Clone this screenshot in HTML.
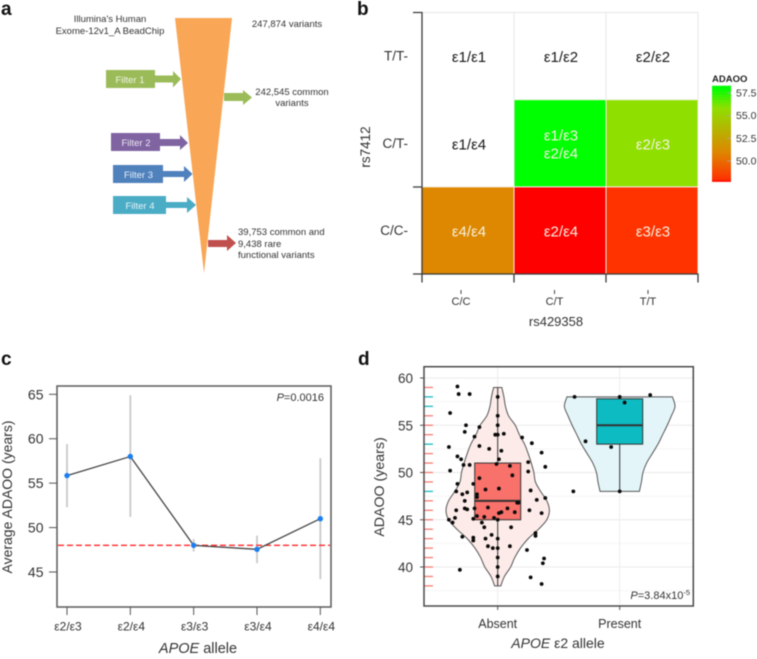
<!DOCTYPE html>
<html lang="en">
<head>
<meta charset="utf-8">
<title>APOE genotype and ADAOO figure</title>
<style>
html,body{margin:0;padding:0;background:#fff;width:757px;height:659px;overflow:hidden}
svg{display:block;filter:blur(.45px)}
text{font-family:"Liberation Sans",Arial,sans-serif;fill:#333}
.panel-label{font-weight:bold;font-size:19px;fill:#111}
</style>
</head>
<body>
<svg id="fig" xmlns="http://www.w3.org/2000/svg" width="757" height="659" viewBox="0 0 757 659">
  <rect width="757" height="659" fill="#fff"/>

  <g id="panel-a">
    <text class="panel-label" x="1" y="15">a</text>
    <polygon points="175,18 232,18 204,273" fill="#f9a656"/>
    <text x="110" y="22" font-size="9.500" text-anchor="middle">Illumina's Human</text>
    <text x="110" y="34" font-size="9.500" text-anchor="middle">Exome-12v1_A BeadChip</text>
    <text x="287" y="27" font-size="9.500" text-anchor="middle">247,874 variants</text>
    <text x="292" y="95" font-size="9.500" text-anchor="middle">242,545 common</text>
    <text x="292" y="106" font-size="9.500" text-anchor="middle">variants</text>
    <text x="238" y="235" font-size="9.500">39,753 common and</text>
    <text x="238" y="247" font-size="9.500">9,438 rare</text>
    <text x="238" y="258" font-size="9.500">functional variants</text>

    <g>
      <rect x="106" y="70" width="49" height="18" fill="#9bbb59"/>
      <polygon points="155,75.5 173,75.5 173,71 181,79 173,87.5 173,82.5 155,82.5" fill="#9bbb59"/>
      <text x="130" y="83" font-size="9.500" text-anchor="middle" style="fill:#f0f5e4">Filter 1</text>
    </g>
    <g>
      <rect x="111" y="133" width="49" height="18" fill="#8064a2"/>
      <polygon points="160,139 180,139 180,135 188,143 180,150 180,146 160,146" fill="#8064a2"/>
      <text x="136" y="146" font-size="9.500" text-anchor="middle" style="fill:#ece7f2">Filter 2</text>
    </g>
    <g>
      <rect x="113" y="165" width="50" height="18" fill="#4f81bd"/>
      <polygon points="163,171 184,171 184,166 192.500,174 184,182 184,177 163,177" fill="#4f81bd"/>
      <text x="138.500" y="178" font-size="9.500" text-anchor="middle" style="fill:#e6eef7">Filter 3</text>
    </g>
    <g>
      <rect x="113" y="196" width="53" height="18" fill="#4bacc6"/>
      <polygon points="166,202 187,202 187,197 196,205 187,213 187,208 166,208" fill="#4bacc6"/>
      <text x="140" y="209" font-size="9.500" text-anchor="middle" style="fill:#e5f4f8">Filter 4</text>
    </g>
    <polygon points="224,93 243,93 243,90 252,97.500 243,105 243,101 224,101" fill="#9bbb59"/>
    <polygon points="208,240 227,240 227,235 236,243 227,251 227,247 208,247" fill="#c0504d"/>
  </g>

  <g id="panel-b">
    <text class="panel-label" x="357" y="15">b</text>
    <defs>
      <linearGradient id="legend-gradient" x1="0" y1="1" x2="0" y2="0"></linearGradient>
    </defs>
    <g id="b-plot"></g>
    <text x="556" y="326" font-size="13" text-anchor="middle">rs429358</text>
    <text transform="translate(370 147) rotate(-90)" font-size="13.500" text-anchor="middle">rs7412</text>
    <text x="712" y="82" font-size="9.500" font-weight="bold" style="fill:#222">ADAOO</text>
    <g id="b-legend"></g>
  </g>

  <g id="panel-c">
    <text class="panel-label" x="1" y="365">c</text>
    <g id="c-plot"></g>
    <text x="198" y="653" font-size="14.500" text-anchor="middle"><tspan font-style="italic">APOE</tspan> allele</text>
    <text transform="translate(12 497) rotate(-90)" font-size="14" text-anchor="middle">Average ADAOO (years)</text>
    <text x="324" y="401" font-size="11" text-anchor="end"><tspan font-style="italic">P</tspan>=0.0016</text>
  </g>

  <g id="panel-d">
    <text class="panel-label" x="358" y="365">d</text>
    <g id="d-plot"></g>
    <text x="558" y="648" font-size="14" text-anchor="middle"><tspan font-style="italic">APOE</tspan> ε2 allele</text>
    <text transform="translate(384 487) rotate(-90)" font-size="14.200" text-anchor="middle">ADAOO (years)</text>
    <text x="690" y="599" font-size="11" text-anchor="end"><tspan font-style="italic">P</tspan>=3.84x10<tspan font-size="7.500" dy="-4">-5</tspan></text>
  </g>
</svg>

<script>
/* ---------- panel b data ---------- */
const heatRows = ['T/T', 'C/T', 'C/C'];
const heatCols = ['C/C', 'C/T', 'T/T'];
const heatValues = [[null, null, null], [null, 58, 55.85], [51, 47.5, 48]];
const heatLabels = [['ε1/ε1', 'ε1/ε2', 'ε2/ε2'], ['ε1/ε4', 'ε1/ε3\nε2/ε4', 'ε2/ε3'], ['ε4/ε4', 'ε2/ε4', 'ε3/ε3']];
const legendTicks = [57.5, 55, 52.5, 50];
const colorDomain = [47.5, 48, 51, 55.85, 58];
const colorRange = ['#ff0000', '#ff3300', '#dd8800', '#8fdf00', '#00ff00'];

/* ---------- panel c data ---------- */
const alleleLabels = ['ε2/ε3', 'ε2/ε4', 'ε3/ε3', 'ε3/ε4', 'ε4/ε4'];
const alleleMeans = [55.85, 58, 48, 47.55, 51];
const alleleLow = [52.3, 51.2, 47.3, 46, 44.2];
const alleleHigh = [59.4, 64.9, 48.7, 49.1, 57.8];
const cTicks = [45, 50, 55, 60, 65];
const cReference = 48;

/* ---------- panel d data ---------- */
const dTicks = [40, 45, 50, 55, 60];
const dCategories = ['Absent', 'Present'];
const violinLevelsAbsent = [38, 39, 40, 41, 42, 43, 44, 45, 46, 47, 48, 49, 50, 51, 52, 53, 54, 55, 56, 57, 58, 59];
const violinDensityAbsent = [.06, .13, .25, .33, .44, .59, .79, .95, 1, .95, .83, .73, .70, .65, .59, .52, .42, .34, .21, .15, .12, .08];
const violinLevelsPresent = [48, 49, 50, 51, 52, 53, 54, 55, 56, 57, 58];
const violinDensityPresent = [.38, .42, .45, .52, .63, .74, .83, .92, 1, 1.07, 1.02];
const boxAbsent = [38, 45, 47, 51, 59];
const boxPresent = [48, 53, 55, 57.8, 58];
const absentJitter = [-.33, -.32, -.23, -.39, -.26, -.27, -.15, -.19, -.40, -.15, -.07, -.33, -.30, -.39, -.28, -.23, -.20, -.33, -.34, -.25, -.29, -.27, -.17, -.17, -.27, -.25, -.34, -.19, -.40, -.37, -.35, -.20, -.17, -.29, -.20, -.20, -.13, -.11, -.10, -.05, -.08, -.04, .10, .11, -.31, -.02, .05, .20, .28, .36, .39, .03, .01, -.01, .10, .25, .25, -.15, .12, -.10, .01, .27, .32, .39, .16, .17, .26, .36, .14, .08, .03, .01, -.03, -.11, -.08, .31, .31, .24, .38, .37, .27, .36, 0, 0, 0, 0, 0, 0, 0, 0, 0, 0];
const absentValues = [59.1, 58.3, 58.3, 56.3, 55, 54.3, 54.8, 53.8, 52.7, 52.8, 52.5, 51.7, 51.4, 50.2, 50.8, 50.8, 48.8, 48.8, 48, 47.9, 47.7, 47, 47.7, 47.4, 46.2, 46.1, 46, 46.2, 45, 44.7, 45.2, 45.1, 45.4, 43.2, 43.1, 42.8, 44.7, 44.2, 43, 43.4, 42.2, 42, 42.2, 44.2, 39.7, 54, 54.1, 53.7, 53.1, 52.1, 50.6, 52.3, 51.4, 50.9, 50.7, 51.1, 50.1, 49.4, 49.7, 48.2, 48.3, 48.1, 47.1, 47.3, 46.8, 46.8, 46, 45.7, 45.8, 46.2, 45.8, 45.7, 45.2, 45.3, 46.3, 43.6, 43.3, 41.8, 40.9, 40.4, 38.9, 38.2, 58, 56, 55, 54, 43, 42, 41, 40, 39, 45];
const presentJitter = [-.37, 0, .25, .04, -.28, -.07, -.38, 0];
const presentValues = [58, 58, 58.2, 57.4, 53.3, 52.7, 48, 48];
const rugAbsent = [38, 39, 40, 41, 42, 43, 44, 45, 46, 47, 49, 50, 51, 52, 54, 55, 56, 59];
const rugPresent = [48, 53, 57, 58];

/* ---------- helpers ---------- */
const NS = 'http://www.w3.org/2000/svg';
function mk(parent, tag, attrs, txt) {
  const el = document.createElementNS(NS, tag);
  for (const k in attrs) el.setAttribute(k, attrs[k]);
  if (txt !== undefined) el.textContent = txt;
  parent.appendChild(el);
  return el;
}
function linear(d0, d1, r0, r1) {
  return v => r0 + (v - d0) * (r1 - r0) / (d1 - d0);
}
function colorOf(v) {
  let i = 0;
  while (i < colorDomain.length - 2 && v > colorDomain[i + 1]) i++;
  const t = Math.max(0, Math.min(1, (v - colorDomain[i]) / (colorDomain[i + 1] - colorDomain[i])));
  const c = s => [1, 3, 5].map(p => parseInt(s.substr(p, 2), 16));
  const a = c(colorRange[i]), b = c(colorRange[i + 1]);
  return 'rgb(' + a.map((x, j) => Math.round(x + (b[j] - x) * t)).join(',') + ')';
}
function smooth(pts) {
  let d = 'M' + pts[0][0] + ' ' + pts[0][1];
  for (let i = 0; i < pts.length - 1; i++) {
    const p0 = pts[Math.max(i - 1, 0)], p1 = pts[i], p2 = pts[i + 1], p3 = pts[Math.min(i + 2, pts.length - 1)];
    d += 'C' + (p1[0] + (p2[0] - p0[0]) / 6) + ' ' + (p1[1] + (p2[1] - p0[1]) / 6) + ' ' +
      (p2[0] - (p3[0] - p1[0]) / 6) + ' ' + (p2[1] - (p3[1] - p1[1]) / 6) + ' ' + p2[0] + ' ' + p2[1];
  }
  return d;
}

/* ---------- panel b ---------- */
(function () {
  const g = document.getElementById('b-plot');
  const left = 422, top = 12.5, cw = 92, ch = 87.2;
  const xb = i => left + i * cw, yb = i => top + i * ch;
  const topGrid = mk(g, 'path', {d: 'M422 12.5H698V100M514 12.5V100M606 12.5V100', fill: 'none', stroke: '#e6e6e6', 'stroke-width': 1});
  
  
  heatRows.forEach((row, r) => {
    heatCols.forEach((col, c) => {
      const v = heatValues[r][c];
      if (v !== null) {
        const rect = mk(g, 'rect', {x: xb(c), y: yb(r), width: cw, height: ch, fill: colorOf(v), stroke: '#f3efe6', 'stroke-width': 1});
        
        
      }
    });
  });
  heatRows.forEach((row, r) => {
    heatCols.forEach((col, c) => {
      const lines = heatLabels[r][c].split('\n');
      const v = heatValues[r][c];
      lines.forEach((ln, i) => {
        const t = mk(g, 'text', {x: xb(c) + cw / 2 + 1, y: yb(r) + ch / 2 + 6 + (i - (lines.length - 1) / 2) * 18, 'font-size': 15, 'text-anchor': 'middle'}, ln);
        t.style.fill = v === null ? '#1a1a1a' : '#f6f0e0';
        
        
      });
    });
    const rl = mk(g, 'text', {x: 408, y: yb(r) + ch / 2 + 4.5, 'font-size': 13.5, 'text-anchor': 'end'}, row + '-');
    
    
  });
  heatCols.forEach((col, c) => {
    const cx = xb(c) + cw / 2 - 7 + c * 1.5;
    const m = mk(g, 'line', {x1: cx, x2: cx, y1: 290, y2: 294, stroke: '#444'});
    
    
    const t = mk(g, 'text', {x: cx, y: 305, 'font-size': 11, 'text-anchor': 'middle'}, col);
    
    
  });
  const ax = mk(g, 'path', {d: 'M413 12.5H422V274H413M422 187H413M422 274H698V282.500M422 274V282.500M514 274V282.500M606 274V282.500', fill: 'none', stroke: '#3a3a3a', 'stroke-width': 1.3});
  
  

  const lg = document.getElementById('b-legend');
  const ly = linear(50, 57.5, 161, 93);
  const lo = 47.7, hi = 58.3;
  const grad = document.getElementById('legend-gradient');
  colorDomain.forEach(v => {
    mk(grad, 'stop', {offset: Math.max(0, (v - lo) / (hi - lo)), 'stop-color': colorOf(v)});
  });
  const bar = mk(lg, 'rect', {x: 712, y: ly(hi), width: 19, height: ly(lo) - ly(hi), fill: 'url(#legend-gradient)'});
  
  
  legendTicks.forEach(v => {
    const m = mk(lg, 'line', {x1: 727, x2: 731, y1: ly(v), y2: ly(v), stroke: '#aaa', 'stroke-width': .8});
    
    
    const t = mk(lg, 'text', {x: 736, y: ly(v) + 3.5, 'font-size': 10.5}, v.toFixed(1));
    
    
  });
})();

/* ---------- panel c ---------- */
(function () {
  const g = document.getElementById('c-plot');
  const yc = linear(45, 65, 572, 394.3);
  const xc = i => 67 + i * 63.33;
  const box = mk(g, 'rect', {x: 57, y: 386, width: 274, height: 221, fill: '#fff', stroke: '#5a5a5a', 'stroke-width': 1.5});
  
  
  cTicks.forEach(v => {
    const m = mk(g, 'line', {x1: 49, x2: 57, y1: yc(v), y2: yc(v), stroke: '#555', 'stroke-width': 1});
    
    
    const t = mk(g, 'text', {x: 43.5, y: yc(v) + 5, 'font-size': 14, 'text-anchor': 'end'}, v);
    
    
  });
  alleleLabels.forEach((lab, i) => {
    const m = mk(g, 'line', {x1: xc(i), x2: xc(i), y1: 607, y2: 615, stroke: '#555', 'stroke-width': 1});
    
    
    const t = mk(g, 'text', {x: xc(i) + 1, y: 630.5, 'font-size': 12, 'text-anchor': 'middle'}, lab);
    
    
    const e = mk(g, 'line', {x1: xc(i), x2: xc(i), y1: yc(alleleLow[i]), y2: yc(alleleHigh[i]), stroke: '#c9c9c9', 'stroke-width': 1.8});
    
    
  });
  const ref = mk(g, 'line', {x1: 58, x2: 330, y1: yc(cReference), y2: yc(cReference), stroke: '#ff2a2a', 'stroke-width': 1.4, 'stroke-dasharray': '6 3'});
  
  
  const pl = mk(g, 'polyline', {points: alleleMeans.map((v, i) => xc(i) + ',' + yc(v)).join(' '), fill: 'none', stroke: '#444', 'stroke-width': 1.3});
  
  
  alleleMeans.forEach((v, i) => {
    const c = mk(g, 'circle', {cx: xc(i), cy: yc(v), r: 2.7, fill: '#1a7ff0'});
    
    
  });
})();

/* ---------- panel d ---------- */
(function () {
  const g = document.getElementById('d-plot');
  const yd = linear(40, 60, 567, 378);
  const xd = i => 497.7 + i * 122;
  const L = 424, R = 693.3, T = 366.7, B = 606;
  const halfScale = 51.7, boxHalf = 23;
  const bg = mk(g, 'rect', {x: L, y: T, width: R - L, height: B - T, fill: '#fff'});
  
  
  dTicks.forEach(v => {
    [v, v - 2.5].forEach(w => {
      const gl = mk(g, 'line', {x1: L, x2: R, y1: yd(w), y2: yd(w), stroke: w === v ? '#ebebeb' : '#f5f5f5', 'stroke-width': 1});
      
      
    });
    const m = mk(g, 'line', {x1: 420, x2: L, y1: yd(v), y2: yd(v), stroke: '#555', 'stroke-width': 1});
    
    
    const t = mk(g, 'text', {x: 413, y: yd(v) + 5, 'font-size': 13.5, 'text-anchor': 'end'}, v);
    
    
  });
  dCategories.forEach((c, i) => {
    const gl = mk(g, 'line', {x1: xd(i), x2: xd(i), y1: T, y2: B, stroke: '#ededed', 'stroke-width': 1});
    
    
    const m = mk(g, 'line', {x1: xd(i), x2: xd(i), y1: B, y2: B + 4, stroke: '#555', 'stroke-width': 1});
    
    
    const t = mk(g, 'text', {x: xd(i), y: 628, 'font-size': 12.5, 'text-anchor': 'middle'}, c);
    
    
  });

  rugAbsent.forEach(v => {
    const r = mk(g, 'line', {x1: L, x2: 433, y1: yd(v), y2: yd(v), stroke: '#f87c74', 'stroke-width': 1.3});
    
    
  });
  rugPresent.forEach(v => {
    const r = mk(g, 'line', {x1: L, x2: 433, y1: yd(v), y2: yd(v), stroke: '#1abcc4', 'stroke-width': 1.3});
    
    
  });

  function violinPath(i, levels, dens) {
    const leftSide = levels.map((v, k) => [xd(i) - dens[k] * halfScale, yd(v)]);
    const rightSide = levels.map((v, k) => [xd(i) + dens[k] * halfScale, yd(v)]).reverse();
    return smooth(leftSide) + 'L' + rightSide[0][0] + ' ' + rightSide[0][1] + smooth(rightSide).replace(/^M[^C]*/, '') + 'Z';
  }
  const va = mk(g, 'path', {d: violinPath(0, violinLevelsAbsent, violinDensityAbsent), fill: '#fcebe8', stroke: '#555', 'stroke-width': 1});
  
  
  const vp = mk(g, 'path', {d: violinPath(1, violinLevelsPresent, violinDensityPresent), fill: '#e3f5f8', stroke: '#555', 'stroke-width': 1});
  
  

  function drawBox(i, b, fill) {
    const w = mk(g, 'line', {x1: xd(i), x2: xd(i), y1: yd(b[0]), y2: yd(b[4]), stroke: '#333', 'stroke-width': 1});
    
    
    const r = mk(g, 'rect', {x: xd(i) - boxHalf, y: yd(b[3]), width: boxHalf * 2, height: yd(b[1]) - yd(b[3]), fill: fill, stroke: '#333', 'stroke-width': 1});
    
    
    const m = mk(g, 'line', {x1: xd(i) - boxHalf, x2: xd(i) + boxHalf, y1: yd(b[2]), y2: yd(b[2]), stroke: '#333', 'stroke-width': 2});
    
    
  }
  drawBox(0, boxAbsent, '#f8716a');
  drawBox(1, boxPresent, '#0cbcc2');

  absentValues.forEach((v, k) => {
    const c = mk(g, 'circle', {cx: xd(0) + absentJitter[k] * 122, cy: yd(v), r: 1.9, fill: '#0a0a0a'});
    
    
  });
  presentValues.forEach((v, k) => {
    const c = mk(g, 'circle', {cx: xd(1) + presentJitter[k] * 122, cy: yd(v), r: 1.9, fill: '#0a0a0a'});
    
    
  });

  const f = mk(g, 'rect', {x: L, y: T, width: R - L, height: B - T, fill: 'none', stroke: '#4a4a4a', 'stroke-width': 1.5});
  
  
})();
</script>
</body>
</html>
